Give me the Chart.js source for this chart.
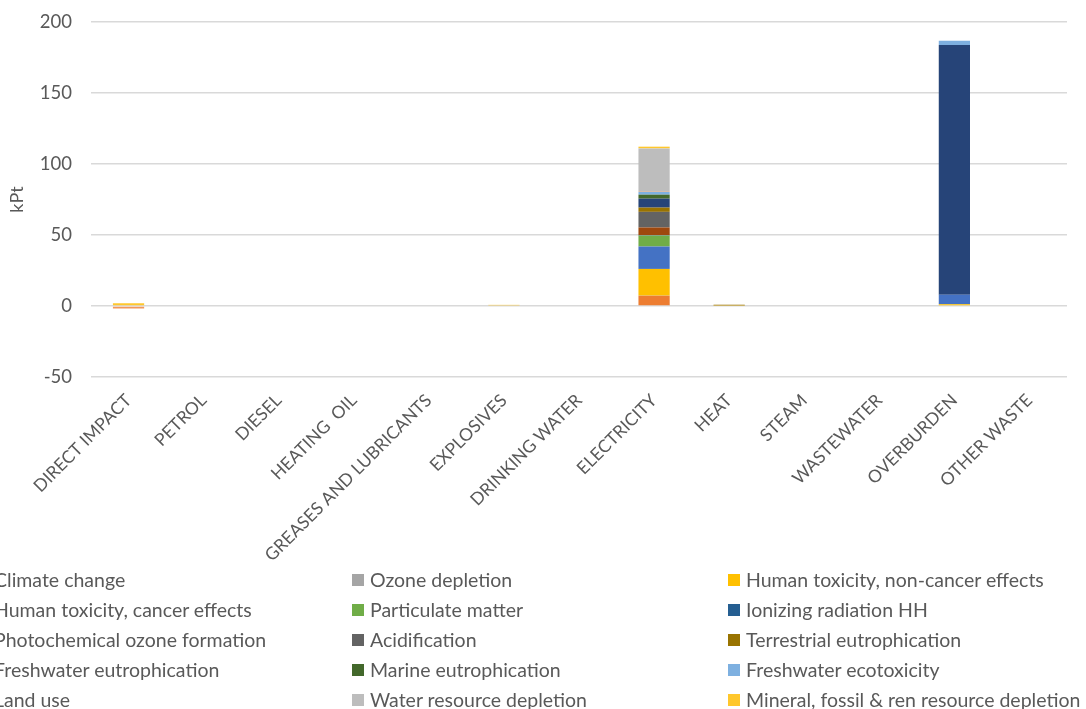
<!DOCTYPE html>
<html>
<head>
<meta charset="utf-8">
<script src="https://cdn.jsdelivr.net/npm/chart.js@4"></script>
<style>
  body { margin: 0; background: #fff; overflow: hidden; }
  #wrap { position: absolute; left: 0; top: 0; width: 1086px; height: 709px; }
  #legend { position: absolute; left: 0; top: 0; width: 1086px; height: 709px; pointer-events: none; }
  .item { position: absolute; height: 30px; line-height: 30px; white-space: nowrap;
          font-family: Lato, sans-serif; font-size: 19.5px; color: #595959; }
  .item span.box { position: absolute; left: 0; top: 9px; width: 12px; height: 12px; }
  .item span.txt { position: absolute; left: 18px; top: 0; }
</style>
</head>
<body>
<div id="wrap"><canvas id="chart"></canvas></div>
<div id="legend"></div>
<script>
// categories along the x axis
const categories = ["DIRECT IMPACT", "PETROL", "DIESEL", "HEATING  OIL", "GREASES AND LUBRICANTS",
    "EXPLOSIVES", "DRINKING WATER", "ELECTRICITY", "HEAT", "STEAM", "WASTEWATER", "OVERBURDEN", "OTHER WASTE"];

// impact categories (kPt), one value per x category
const climateChange     = [0, 0, 0, 0, 0, 0, 0, 7.2, 0, 0, 0, 0, 0];
const ozoneDepletion    = [0, 0, 0, 0, 0, 0, 0, 0.1, 0, 0, 0, 0, 0];
const humanToxNonCancer = [0.6, 0, 0, 0, 0, 0.5, 0, 18.8, 0.4, 0, 0, 1.2, 0];
const humanToxCancer    = [0, 0, 0, 0, 0, 0, 0, 15.8, 0, 0, 0, 6.8, 0];
const particulateMatter = [0, 0, 0, 0, 0, 0, 0, 7.7, 0, 0, 0, 0, 0];
const ionizingRadiation = [0, 0, 0, 0, 0, 0, 0, 0.3, 0, 0, 0, 0, 0];
const photochemOzone    = [0, 0, 0, 0, 0, 0, 0, 5.4, 0, 0, 0, 0, 0];
const acidification     = [0, 0, 0, 0, 0, 0, 0, 11.0, 0, 0, 0, 0, 0];
const terrestrialEutro  = [0, 0, 0, 0, 0, 0, 0, 3.0, 0.5, 0, 0, 0, 0];
const freshwaterEutro   = [0, 0, 0, 0, 0, 0, 0, 6.3, 0, 0, 0, 175.8, 0];
const marineEutro       = [0, 0, 0, 0, 0, 0, 0, 2.8, 0, 0, 0, 0, 0];
const freshwaterEcotox  = [0, 0, 0, 0, 0, 0, 0, 1.9, 0, 0, 0, 3.0, 0];
const landUse           = [-1.8, 0, 0, 0, 0, 0, 0, 0.2, 0, 0, 0, 0, 0];
const waterDepletion    = [0, 0, 0, 0, 0, 0, 0, 30.5, 0, 0, 0, 0, 0];
const mineralDepletion  = [1.4, 0, 0, 0, 0, 0.3, 0, 1.2, 0, 0, 0, 0, 0];

const seriesNames = ["Climate change", "Ozone depletion", "Human toxicity, non-cancer effects",
    "Human toxicity, cancer effects", "Particulate matter", "Ionizing radiation HH",
    "Photochemical ozone formation", "Acidification", "Terrestrial eutrophication",
    "Freshwater eutrophication", "Marine eutrophication", "Freshwater ecotoxicity",
    "Land use", "Water resource depletion", "Mineral, fossil & ren resource depletion"];
const seriesValues = [climateChange, ozoneDepletion, humanToxNonCancer, humanToxCancer,
    particulateMatter, ionizingRadiation, photochemOzone, acidification, terrestrialEutro,
    freshwaterEutro, marineEutro, freshwaterEcotox, landUse, waterDepletion, mineralDepletion];
const seriesColors = ["#ED7D31", "#A5A5A5", "#FFC000", "#4472C4", "#70AD47", "#255E91",
    "#9E480E", "#636363", "#997300", "#264478", "#43682B", "#7EB0E0", "#F1975A", "#BDBDBD", "#FFC72C"];

const yTicks = [-50, 0, 50, 100, 150, 200];

const textColor = "#595959";

const datasets = [];
for (let i = 0; i < seriesNames.length; i++) {
    datasets.push({
        label: seriesNames[i],
        data: seriesValues[i],
        backgroundColor: seriesColors[i],
        borderWidth: 0,
        barPercentage: 0.8,
        categoryPercentage: 0.52
    });
}

const chart = new Chart(document.getElementById("chart"), {
    type: 'bar',
    data: { labels: categories, datasets: datasets },
    options: {
        responsive: true,
        maintainAspectRatio: false,
        animation: false,
        layout: { padding: { top: 22, right: 19, bottom: 122, left: 0 } },
        plugins: {
            legend: { display: false }, // drawn below as html columns
            tooltip: { enabled: false }
        },
        scales: {
            x: {
                stacked: true,
                grid: { display: false },
                border: { display: false },
                ticks: {
                    autoSkip: false,
                    minRotation: 45,
                    maxRotation: 45,
                    padding: 5,
                    color: textColor,
                    font: { family: "Lato", size: 17.5 }
                },
                afterFit: function(scale) { scale.height = 210; }
            },
            y: {
                stacked: true,
                min: yTicks[0],
                max: yTicks[yTicks.length - 1],
                afterBuildTicks: function(scale) {
                    scale.ticks = yTicks.map(v => ({ value: v }));
                },
                // invisible tick marks give the gap between labels and gridlines
                grid: { color: "#d9d9d9", lineWidth: 1.5, drawTicks: true, tickLength: 19,
                        tickColor: "rgba(0,0,0,0)" },
                border: { display: false },
                ticks: {
                    padding: 0,
                    color: textColor,
                    font: { family: "Lato", size: 18.5 }
                },
                title: {
                    display: true,
                    text: "kPt",
                    color: textColor,
                    padding: { top: 6, bottom: 0 },
                    font: { family: "Lato", size: 18 }
                },
                afterFit: function(scale) { scale.width = 91; }
            }
        }
    }
});

// legend: 3 columns, row-wise, partly cut off on the left like the original
const colX = [-24, 352, 728];
const rowY = [565, 595, 625, 655, 685];
const legend = document.getElementById("legend");
chart.data.datasets.forEach(function(ds, i) {
    const div = document.createElement("div");
    div.className = "item";
    div.style.left = colX[i % 3] + "px";
    div.style.top = rowY[Math.floor(i / 3)] + "px";
    div.innerHTML = "<span class='box' style='background:" + ds.backgroundColor + "'></span>"
        + "<span class='txt'>" + ds.label + "</span>";
    legend.appendChild(div);
});
</script>
</body>
</html>
